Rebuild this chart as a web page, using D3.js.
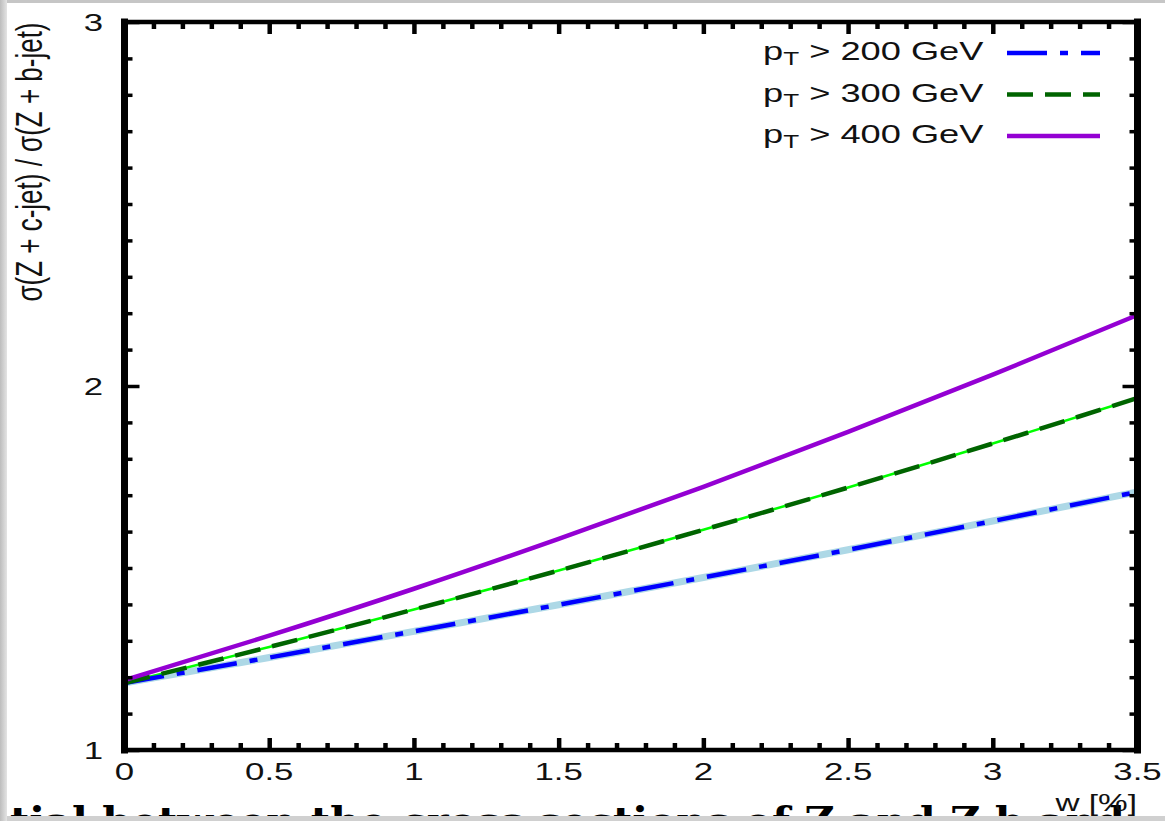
<!DOCTYPE html>
<html>
<head>
<meta charset="utf-8">
<script src="https://cdn.jsdelivr.net/npm/d3@7"></script>
<style>
  body { margin: 0; background: #fff; }
  svg { display: block; }
</style>
</head>
<body>
<svg id="chart" width="1165" height="821"></svg>
<script>
// values
const wValues  = [0, 0.5, 1, 1.5, 2, 2.5, 3, 3.5];
const ratio200 = [1.184, 1.254, 1.326, 1.399, 1.474, 1.550, 1.629, 1.709];
const ratio300 = [1.184, 1.283, 1.386, 1.493, 1.605, 1.721, 1.842, 1.967];
const ratio400 = [1.192, 1.314, 1.443, 1.580, 1.723, 1.874, 2.031, 2.195];
const cutLabels = ["200", "300", "400"];
const xMajor = [0, 0.5, 1, 1.5, 2, 2.5, 3, 3.5];
const yMajor = [1, 2, 3];

const W = 1165, H = 821;
const sx = 1.45;   // the source picture is stretched sideways
const font = "'Liberation Sans', Arial, Helvetica, sans-serif";

const svg = d3.select("#chart");

const x = d3.scaleLinear().domain([0, 3.5]).range([124.5, 1137.5]);
const y = d3.scaleLinear().domain([1, 3]).range([750, 22]);

const xMinor = d3.range(0, 36).map(i => i / 10).filter(v => !xMajor.some(m => Math.abs(m - v) < 1e-9));
const yMinor = d3.range(10, 31).map(i => i / 10).filter(v => !yMajor.some(m => Math.abs(m - v) < 1e-9));

/*
  CURVES
*/

const series = [
  {label: cutLabels[0], values: ratio200, color: "#0000ff", width: 4.5, dash: "40,13,8,13", under: "#add8e6", underWidth: 7},
  {label: cutLabels[1], values: ratio300, color: "#006400", width: 4.5, dash: "26,12", under: "#00ff00", underWidth: 2.5},
  {label: cutLabels[2], values: ratio400, color: "#9400d3", width: 4.5, dash: null, under: null}
];

const line = d3.line()
  .x(d => x(d.w))
  .y(d => y(d.v))
  .curve(d3.curveMonotoneX);

const plot = svg.append("g");

series.forEach(s => {
  if (!s.under) return;
  plot.append("path")
    .datum(wValues.map((w, i) => ({w: w, v: s.values[i]})))
    .attr("d", line)
    .attr("fill", "none")
    .attr("stroke", s.under)
    .attr("stroke-width", s.underWidth);
});

series.forEach(s => {
  plot.append("path")
    .datum(wValues.map((w, i) => ({w: w, v: s.values[i]})))
    .attr("d", line)
    .attr("fill", "none")
    .attr("stroke", s.color)
    .attr("stroke-width", s.width)
    .attr("stroke-dasharray", s.dash);
});

/*
  FRAME AND TICKS
*/

function ticks(axis, pos, values, size, sw) {
  const g = svg.append("g")
    .attr("transform", pos)
    .call(axis.tickValues(values).tickSize(-size).tickFormat(""));
  g.select(".domain").remove();
  g.selectAll(".tick line").attr("stroke", "#000").attr("stroke-width", sw);
  return g;
}

const atBottom = `translate(0,${y(1)})`, atTop = `translate(0,${y(3)})`;
const atLeft = `translate(${x(0)},0)`, atRight = `translate(${x(3.5)},0)`;

ticks(d3.axisBottom(x), atBottom, xMinor, 7, 4.5);
ticks(d3.axisBottom(x), atBottom, xMajor, 12, 4.5);
ticks(d3.axisTop(x), atTop, xMinor, 7, 4.5);
ticks(d3.axisTop(x), atTop, xMajor, 12, 4.5);
ticks(d3.axisLeft(y), atLeft, yMinor, 8, 3.5);
ticks(d3.axisLeft(y), atLeft, yMajor, 15, 3.5);
ticks(d3.axisRight(y), atRight, yMinor, 8, 3.5);
ticks(d3.axisRight(y), atRight, yMajor, 15, 3.5);

const frame = svg.append("g").attr("stroke", "#000").attr("stroke-linecap", "square");
frame.append("line").attr("x1", x(0)).attr("x2", x(3.5)).attr("y1", y(1)).attr("y2", y(1)).attr("stroke-width", 4.5);
frame.append("line").attr("x1", x(0)).attr("x2", x(3.5)).attr("y1", y(3)).attr("y2", y(3)).attr("stroke-width", 4.5);
frame.append("line").attr("x1", x(0)).attr("x2", x(0)).attr("y1", y(1)).attr("y2", y(3)).attr("stroke-width", 7);
frame.append("line").attr("x1", x(3.5)).attr("x2", x(3.5)).attr("y1", y(1)).attr("y2", y(3)).attr("stroke-width", 7);

/*
  PAGE TEXT BELOW (cropped screenshot)
*/

svg.append("text")
  .attr("x", 10).attr("y", 835)
  .attr("textLength", 1115)
  .attr("lengthAdjust", "spacingAndGlyphs")
  .style("font-family", "'DejaVu Serif', 'Liberation Serif', serif")
  .style("font-weight", "bold")
  .style("font-size", "40px")
  .attr("fill", "#000")
  .text("tial between the cross sections of Z and Z b and");

// tick labels
svg.append("g").selectAll("text")
  .data(xMajor)
  .enter()
  .append("text")
  .attr("transform", d => `translate(${x(d)},780) scale(${sx},1)`)
  .attr("text-anchor", "middle")
  .style("font-family", font)
  .style("font-size", "24px")
  .attr("fill", "#111")
  .text(d => d);

svg.append("g").selectAll("text")
  .data(yMajor)
  .enter()
  .append("text")
  .attr("transform", d => `translate(103,${y(d) + 8.5}) scale(${sx},1)`)
  .attr("text-anchor", "end")
  .style("font-family", font)
  .style("font-size", "24px")
  .attr("fill", "#111")
  .text(d => d);

// axis titles
svg.append("text")
  .attr("transform", `translate(42,162) scale(${sx},1) rotate(-90)`)
  .attr("text-anchor", "middle")
  .style("font-family", font)
  .style("font-size", "26px")
  .attr("fill", "#111")
  .text("σ(Z + c-jet) / σ(Z + b-jet)");

svg.append("text")
  .attr("transform", `translate(1137,811) scale(${sx},1)`)
  .attr("text-anchor", "end")
  .style("font-family", font)
  .style("font-size", "23px")
  .attr("fill", "#111")
  .text("w [%]");

/*
  LEGEND
*/

const legend = svg.append("g").selectAll("g")
  .data(series)
  .enter()
  .append("g")
  .attr("transform", (d, i) => `translate(0,${60 + i * 41.5})`);

const label = legend.append("text")
  .attr("transform", `translate(763,0) scale(${sx},1)`)
  .style("font-family", font)
  .style("font-size", "25px")
  .attr("fill", "#111");
label.append("tspan").text("p");
label.append("tspan").attr("dy", 5).style("font-size", "18px").text("T");
label.append("tspan").attr("dy", -5).text(d => ` > ${d.label} GeV`);

legend.append("line")
  .attr("x1", 1007).attr("x2", 1100)
  .attr("y1", -7).attr("y2", -7)
  .attr("stroke", d => d.color)
  .attr("stroke-width", d => d.width)
  .attr("stroke-dasharray", d => d.dash);

/*
  PAGE EDGES
*/

const grad = svg.append("defs").append("linearGradient").attr("id", "edge");
grad.append("stop").attr("offset", "0%").attr("stop-color", "#bdbdbd");
grad.append("stop").attr("offset", "100%").attr("stop-color", "#e4e4e4");

svg.append("rect").attr("x", 0).attr("y", 0).attr("width", W).attr("height", 3).attr("fill", "#c6c6c6");
svg.append("rect").attr("x", 0).attr("y", 816).attr("width", W).attr("height", 5).attr("fill", "#d0d0d0");
svg.append("rect").attr("x", 0).attr("y", 0).attr("width", 7).attr("height", H).attr("fill", "url(#edge)");
</script>
</body>
</html>
